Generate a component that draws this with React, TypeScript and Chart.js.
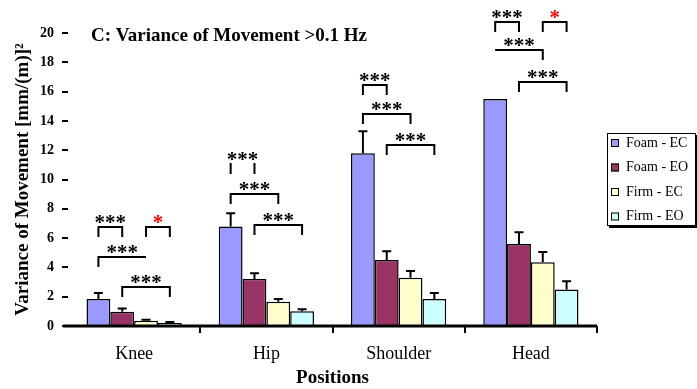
import React, { useEffect, useRef } from "react";
import { Chart, registerables } from "chart.js";

Chart.register(...registerables);

const SERIF = "'Liberation Serif', 'Times New Roman', serif";

// Categories and series
const positions = ["Knee", "Hip", "Shoulder", "Head"];
const seriesNames = ["Foam - EC", "Foam - EO", "Firm - EC", "Firm - EO"];
const seriesColors = ["#9999ff", "#993366", "#ffffcc", "#ccffff"];

// Mean variance per position [mm/(m)]^2
const foamEC = [1.85, 6.8, 11.8, 15.5];
const foamEO = [0.97, 3.2, 4.5, 5.6];
const firmEC = [0.35, 1.65, 3.3, 4.35];
const firmEO = [0.2, 1.0, 1.85, 2.5];

// Upper error (added to the mean); 0 = no visible bar
const foamECErr = [0.4, 0.9, 1.5, 0];
const foamEOErr = [0.23, 0.4, 0.6, 0.8];
const firmECErr = [0.07, 0.2, 0.45, 0.7];
const firmEOErr = [0.07, 0.15, 0.4, 0.55];

const yTicks = [0, 2, 4, 6, 8, 10, 12, 14, 16, 18, 20];

// Significance brackets: position index, series from/to, level, label
type Bracket = {
  cat: number;
  from: number;
  to: number;
  y: number;
  label: string;
  color: string;
  leftTick: boolean;
  rightTick: boolean;
  line: boolean;
};
const brackets: Bracket[] = [
  { cat: 0, from: 0, to: 1, y: 6.76, label: "***", color: "#000", leftTick: true, rightTick: true, line: true },
  { cat: 0, from: 2, to: 3, y: 6.76, label: "*", color: "#ff0000", leftTick: true, rightTick: true, line: true },
  { cat: 0, from: 0, to: 2, y: 4.7, label: "***", color: "#000", leftTick: true, rightTick: false, line: true },
  { cat: 0, from: 1, to: 3, y: 2.65, label: "***", color: "#000", leftTick: true, rightTick: true, line: true },
  { cat: 1, from: 0, to: 1, y: 11.06, label: "***", color: "#000", leftTick: true, rightTick: true, line: false },
  { cat: 1, from: 0, to: 2, y: 9.0, label: "***", color: "#000", leftTick: true, rightTick: true, line: true },
  { cat: 1, from: 1, to: 3, y: 6.9, label: "***", color: "#000", leftTick: true, rightTick: true, line: true },
  { cat: 2, from: 0, to: 1, y: 16.45, label: "***", color: "#000", leftTick: true, rightTick: true, line: true },
  { cat: 2, from: 0, to: 2, y: 14.5, label: "***", color: "#000", leftTick: true, rightTick: true, line: true },
  { cat: 2, from: 1, to: 3, y: 12.35, label: "***", color: "#000", leftTick: true, rightTick: true, line: true },
  { cat: 3, from: 0, to: 1, y: 20.75, label: "***", color: "#000", leftTick: true, rightTick: true, line: true },
  { cat: 3, from: 2, to: 3, y: 20.75, label: "*", color: "#ff0000", leftTick: true, rightTick: true, line: true },
  { cat: 3, from: 0, to: 2, y: 18.85, label: "***", color: "#000", leftTick: false, rightTick: true, line: true },
  { cat: 3, from: 1, to: 3, y: 16.65, label: "***", color: "#000", leftTick: true, rightTick: true, line: true },
];

const seriesValues = [foamEC, foamEO, firmEC, firmEO];
const seriesErrors = [foamECErr, foamEOErr, firmECErr, firmEOErr];

const errorBarPlugin = {
  id: "errorBars",
  afterDatasetsDraw(chart: any) {
    const { ctx } = chart;
    const yScale = chart.scales.y;
    ctx.save();
    ctx.strokeStyle = "#000";
    ctx.lineWidth = 2;
    chart.data.datasets.forEach((ds: any, i: number) => {
      const meta = chart.getDatasetMeta(i);
      meta.data.forEach((el: any, j: number) => {
        const err = seriesErrors[i][j];
        if (!err) return;
        const top = yScale.getPixelForValue(ds.data[j] + err);
        ctx.beginPath();
        ctx.moveTo(el.x, el.y);
        ctx.lineTo(el.x, top);
        ctx.moveTo(el.x - 4.5, top);
        ctx.lineTo(el.x + 4.5, top);
        ctx.stroke();
      });
    });
    ctx.restore();
  },
};

const axisPlugin = {
  id: "axisLine",
  afterDatasetsDraw(chart: any) {
    const { ctx, chartArea } = chart;
    const xScale = chart.scales.x;
    ctx.save();
    ctx.strokeStyle = "#000";
    ctx.lineWidth = 3;
    ctx.beginPath();
    ctx.moveTo(chartArea.left - 5, chartArea.bottom);
    ctx.lineTo(chartArea.right, chartArea.bottom);
    ctx.stroke();
    ctx.lineWidth = 2;
    const half = (xScale.getPixelForValue(1) - xScale.getPixelForValue(0)) / 2;
    positions.forEach((_, i) => {
      const x = Math.round(xScale.getPixelForValue(i) + half);
      ctx.beginPath();
      ctx.moveTo(x, chartArea.bottom);
      ctx.lineTo(x, chartArea.bottom + 7);
      ctx.stroke();
    });
    ctx.restore();
  },
};

const bracketPlugin = {
  id: "brackets",
  afterDraw(chart: any) {
    const { ctx } = chart;
    const yScale = chart.scales.y;
    ctx.save();
    ctx.lineWidth = 2;
    brackets.forEach((b) => {
      const x1 = chart.getDatasetMeta(b.from).data[b.cat].x;
      const x2 = chart.getDatasetMeta(b.to).data[b.cat].x;
      const y = Math.round(yScale.getPixelForValue(b.y));
      ctx.strokeStyle = "#000";
      ctx.beginPath();
      if (b.line) {
        ctx.moveTo(x1, y);
        ctx.lineTo(x2, y);
      }
      if (b.leftTick) {
        ctx.moveTo(x1, y - 1);
        ctx.lineTo(x1, y + 10);
      }
      if (b.rightTick) {
        ctx.moveTo(x2, y - 1);
        ctx.lineTo(x2, y + 10);
      }
      ctx.stroke();
      ctx.fillStyle = b.color;
      ctx.font = `bold 21px ${SERIF}`;
      ctx.textAlign = "center";
      ctx.textBaseline = "alphabetic";
      ctx.fillText(b.label, (x1 + x2) / 2, y + 2);
    });
    ctx.restore();
  },
};

const titlePlugin = {
  id: "panelTitle",
  afterDraw(chart: any) {
    const { ctx, chartArea } = chart;
    ctx.save();
    ctx.fillStyle = "#000";
    ctx.font = `bold 19px ${SERIF}`;
    ctx.textAlign = "left";
    ctx.textBaseline = "middle";
    ctx.fillText("C: Variance of Movement >0.1 Hz", chartArea.left + 23, chartArea.top + 3);
    ctx.restore();
  },
};

const legendPlugin = {
  id: "boxLegend",
  afterDraw(chart: any) {
    const { ctx, chartArea } = chart;
    const left = chartArea.right + 10;
    const top = 133;
    const w = 89;
    const h = 93;
    ctx.save();
    ctx.fillStyle = "#000";
    ctx.fillRect(left + 2, top + 2, w, h);
    ctx.fillStyle = "#fff";
    ctx.fillRect(left, top, w, h);
    ctx.strokeStyle = "#000";
    ctx.lineWidth = 1;
    ctx.strokeRect(left + 0.5, top + 0.5, w - 1, h - 1);
    ctx.font = `14px ${SERIF}`;
    ctx.textAlign = "left";
    ctx.textBaseline = "middle";
    chart.data.datasets.forEach((ds: any, i: number) => {
      const cy = top + 10 + i * 24.5;
      ctx.fillStyle = ds.backgroundColor;
      ctx.fillRect(left + 4, cy - 4, 8, 8);
      ctx.strokeRect(left + 4.5, cy - 3.5, 7, 7);
      ctx.fillStyle = "#000";
      ctx.fillText(ds.label, left + 19, cy);
    });
    ctx.restore();
  },
};

export default function App() {
  const canvasRef = useRef<HTMLCanvasElement | null>(null);

  useEffect(() => {
    const canvas = canvasRef.current;
    if (!canvas) return;
    const chart = new Chart(canvas, {
      type: "bar",
      data: {
        labels: positions,
        datasets: seriesValues.map((vals, i) => ({
          label: seriesNames[i],
          data: vals,
          backgroundColor: seriesColors[i],
          borderColor: "#000",
          borderWidth: 1.5,
          borderSkipped: "bottom" as const,
          categoryPercentage: 0.72,
          barPercentage: 1,
        })),
      },
      options: {
        animation: false,
        responsive: false,
        devicePixelRatio: 1,
        layout: { padding: { left: 0, right: 100, top: 33, bottom: 0 } },
        plugins: {
          legend: { display: false },
          tooltip: { enabled: false },
        },
        scales: {
          x: {
            grid: { display: false, drawTicks: false },
            border: { display: false },
            ticks: {
              color: "#000",
              padding: 17,
              font: { family: SERIF, size: 18 },
            },
            title: {
              display: true,
              text: "Positions",
              color: "#000",
              font: { family: SERIF, size: 19, weight: "bold" },
              padding: { top: 0, bottom: 0 },
            },
            afterFit: (s: any) => {
              s.height = 63;
            },
          },
          y: {
            min: 0,
            max: 20,
            afterBuildTicks: (s: any) => {
              s.ticks = yTicks.map((v) => ({ value: v }));
            },
            ticks: {
              color: "#000",
              padding: 8,
              font: { family: SERIF, size: 14, weight: "bold" },
            },
            grid: {
              drawOnChartArea: false,
              drawTicks: true,
              tickLength: 6,
              color: "#000",
              lineWidth: 2,
            },
            border: { display: false },
            title: {
              display: true,
              text: "Variance of Movement [mm/(m)]²",
              color: "#000",
              font: { family: SERIF, size: 19, weight: "bold" },
              padding: { top: 12, bottom: 0 },
            },
            afterFit: (s: any) => {
              s.width = 68;
            },
          },
        },
      },
      plugins: [errorBarPlugin, axisPlugin, bracketPlugin, titlePlugin, legendPlugin],
    });
    return () => chart.destroy();
  }, []);

  return (
    <div style={{ position: "fixed", left: 0, top: 0, width: 697, height: 389, background: "#fff" }}>
      <canvas ref={canvasRef} width={697} height={389} style={{ width: 697, height: 389, display: "block" }} />
    </div>
  );
}
